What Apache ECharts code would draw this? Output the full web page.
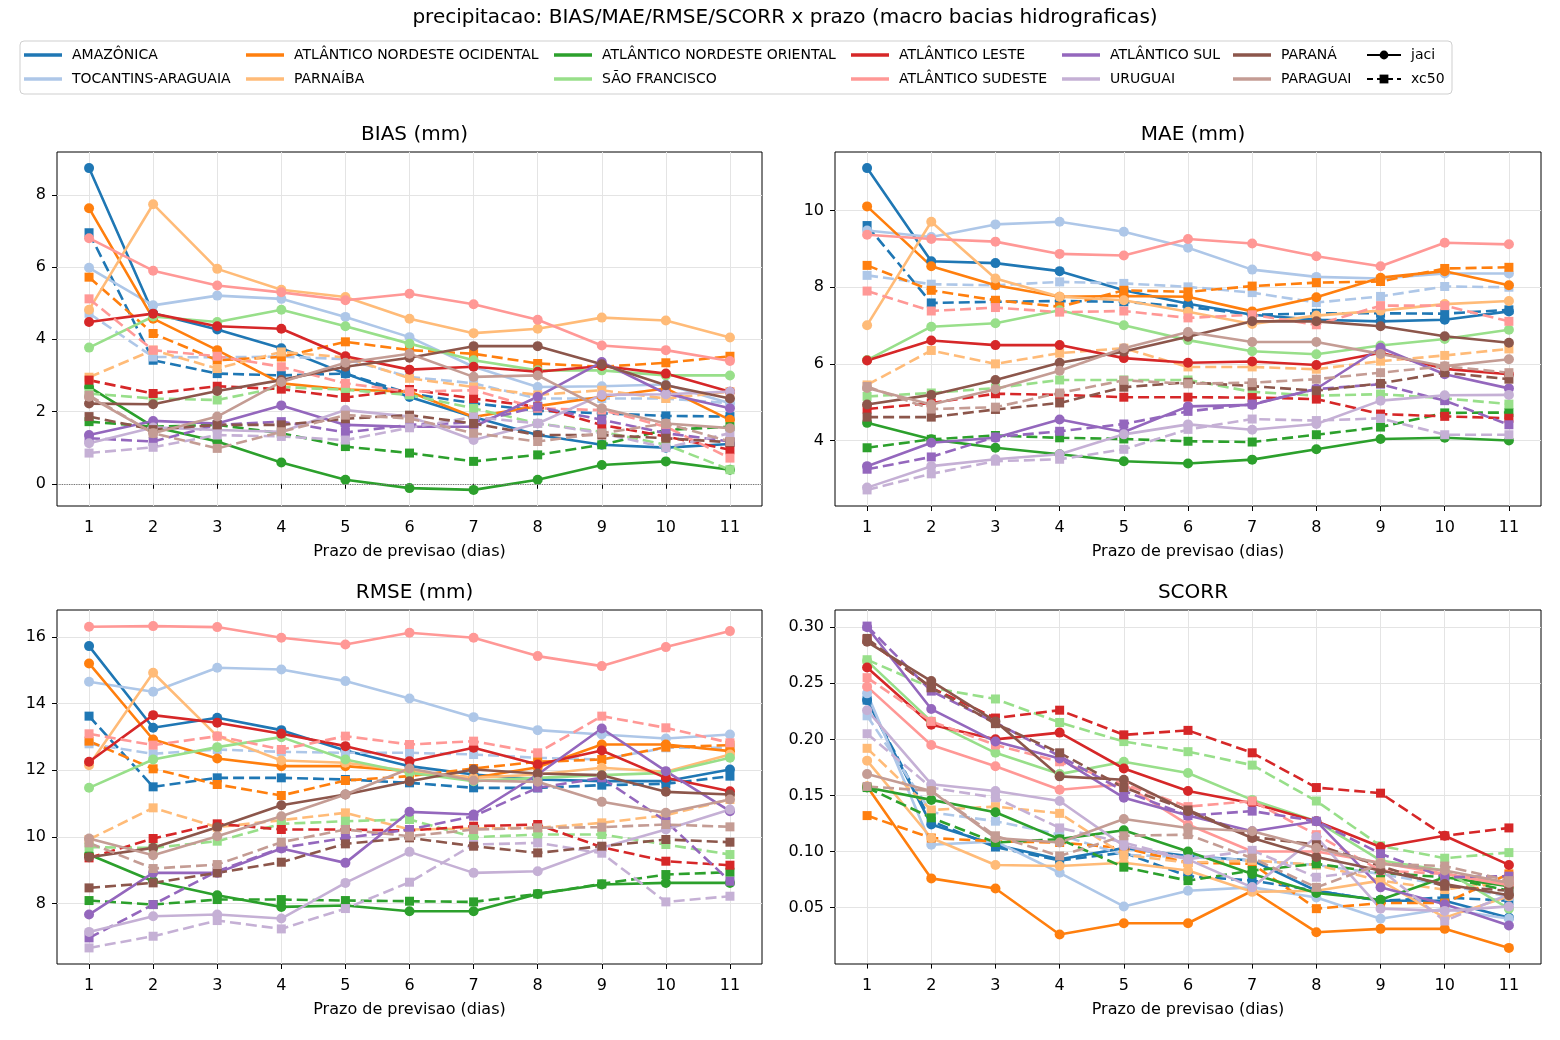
<!DOCTYPE html>
<html>
<head>
<meta charset="utf-8">
<script src="https://cdn.jsdelivr.net/npm/echarts@6.0.0/dist/echarts.min.js"></script>
<style>
  html, body { margin: 0; padding: 0; background: #fff; }
  #chart { width: 1560px; height: 1040px; }
</style>
</head>
<body>
<div id="chart"></div>
<script>
// lead times (dias)
var leads = [1, 2, 3, 4, 5, 6, 7, 8, 9, 10, 11];

var basins = ['AMAZÔNICA', 'TOCANTINS-ARAGUAIA', 'ATLÂNTICO NORDESTE OCIDENTAL', 'PARNAÍBA',
  'ATLÂNTICO NORDESTE ORIENTAL', 'SÃO FRANCISCO', 'ATLÂNTICO LESTE', 'ATLÂNTICO SUDESTE',
  'ATLÂNTICO SUL', 'URUGUAI', 'PARANÁ', 'PARAGUAI'];
var colors = ['#1f77b4', '#aec7e8', '#ff7f0e', '#ffbb78', '#2ca02c', '#98df8a',
  '#d62728', '#ff9896', '#9467bd', '#c5b0d5', '#8c564b', '#c49c94'];

// one row per basin, same order as basins
var biasJaci = [
  [8.74, 4.72, 4.27, 3.75, 3.05, 2.40, 1.85, 1.35, 1.08, 1.00, 1.10],
  [5.98, 4.94, 5.21, 5.12, 4.62, 4.06, 3.24, 2.68, 2.70, 2.75, 2.23],
  [7.63, 4.57, 3.70, 2.78, 2.61, 2.55, 1.85, 2.15, 2.41, 2.64, 1.77],
  [4.82, 7.74, 5.95, 5.37, 5.17, 4.57, 4.17, 4.29, 4.60, 4.52, 4.05],
  [2.68, 1.58, 1.17, 0.59, 0.11, -0.12, -0.17, 0.11, 0.52, 0.62, 0.39],
  [3.77, 4.63, 4.48, 4.82, 4.36, 3.88, 3.42, 3.14, 3.14, 3.00, 3.00],
  [4.48, 4.71, 4.36, 4.29, 3.53, 3.16, 3.24, 3.10, 3.26, 3.05, 2.55],
  [6.80, 5.90, 5.49, 5.30, 5.08, 5.26, 4.97, 4.54, 3.83, 3.70, 3.40],
  [1.35, 1.74, 1.67, 2.17, 1.63, 1.58, 1.58, 2.41, 3.37, 2.50, 2.09],
  [1.12, 1.56, 1.49, 1.44, 2.04, 1.86, 1.21, 1.67, 2.46, 2.48, 2.55],
  [2.22, 2.20, 2.57, 2.87, 3.24, 3.49, 3.81, 3.81, 3.31, 2.73, 2.36],
  [2.41, 1.40, 1.86, 2.82, 3.35, 3.60, 2.96, 3.00, 2.09, 1.67, 1.54]
];
var biasXc50 = [
  [6.95, 3.42, 3.05, 3.00, 3.05, 2.50, 2.23, 2.02, 1.95, 1.88, 1.86],
  [4.72, 3.51, 3.50, 3.52, 3.45, 2.96, 2.78, 2.36, 2.36, 2.36, 2.23],
  [5.72, 4.16, 3.42, 3.51, 3.93, 3.70, 3.60, 3.33, 3.24, 3.35, 3.53],
  [2.95, 3.70, 3.19, 3.65, 3.50, 2.92, 2.68, 2.46, 2.59, 2.36, 2.55],
  [1.72, 1.58, 1.63, 1.40, 1.03, 0.85, 0.62, 0.80, 1.08, 1.49, 1.58],
  [2.50, 2.36, 2.32, 2.68, 2.60, 2.46, 2.09, 1.67, 1.44, 1.08, 0.39],
  [2.87, 2.50, 2.70, 2.62, 2.39, 2.61, 2.36, 2.13, 1.63, 1.31, 0.94],
  [5.12, 3.70, 3.53, 3.24, 2.78, 2.55, 2.59, 2.09, 2.04, 1.58, 0.71],
  [1.26, 1.17, 1.63, 1.72, 1.42, 1.63, 1.70, 2.13, 1.77, 1.40, 1.17],
  [0.85, 1.01, 1.35, 1.31, 1.21, 1.55, 1.85, 1.67, 1.40, 1.00, 1.40],
  [1.86, 1.50, 1.63, 1.63, 1.80, 1.90, 1.67, 1.35, 1.35, 1.26, 1.15],
  [2.45, 1.40, 0.98, 1.44, 1.90, 1.81, 1.40, 1.17, 1.40, 1.67, 1.17]
];

var maeJaci = [
  [11.11, 8.68, 8.63, 8.42, 7.92, 7.57, 7.28, 7.15, 7.11, 7.15, 7.37],
  [9.48, 9.31, 9.64, 9.71, 9.45, 9.03, 8.46, 8.27, 8.23, 8.36, 8.36],
  [10.11, 8.55, 8.05, 7.75, 7.77, 7.75, 7.37, 7.74, 8.25, 8.42, 8.05],
  [7.01, 9.71, 8.23, 7.75, 7.66, 7.36, 7.04, 7.26, 7.39, 7.56, 7.64],
  [4.46, 4.03, 3.81, 3.64, 3.46, 3.40, 3.50, 3.77, 4.04, 4.07, 4.00],
  [6.10, 6.97, 7.06, 7.40, 7.01, 6.62, 6.33, 6.25, 6.48, 6.65, 6.89],
  [6.09, 6.61, 6.49, 6.49, 6.15, 6.03, 6.06, 5.97, 6.29, 5.87, 5.73],
  [9.37, 9.26, 9.19, 8.87, 8.83, 9.26, 9.14, 8.81, 8.55, 9.16, 9.12],
  [3.33, 3.94, 4.07, 4.55, 4.22, 4.89, 4.93, 5.35, 6.42, 5.73, 5.36],
  [2.77, 3.33, 3.51, 3.64, 4.16, 4.42, 4.28, 4.43, 5.04, 5.18, 5.19],
  [4.94, 5.19, 5.58, 6.03, 6.32, 6.71, 7.11, 7.11, 6.98, 6.72, 6.55],
  [5.37, 4.94, 5.34, 5.82, 6.41, 6.83, 6.57, 6.57, 6.26, 5.94, 6.12]
];
var maeXc50 = [
  [9.61, 7.59, 7.62, 7.64, 7.62, 7.49, 7.28, 7.32, 7.32, 7.31, 7.41],
  [8.31, 8.08, 8.05, 8.14, 8.10, 8.01, 7.86, 7.60, 7.76, 8.02, 8.00],
  [8.57, 7.92, 7.66, 7.49, 7.92, 7.88, 8.03, 8.12, 8.15, 8.49, 8.52],
  [5.45, 6.35, 6.00, 6.28, 6.41, 5.92, 5.92, 5.86, 6.07, 6.22, 6.39],
  [3.81, 4.03, 4.13, 4.07, 4.04, 3.98, 3.96, 4.15, 4.35, 4.72, 4.73],
  [5.15, 5.24, 5.37, 5.58, 5.58, 5.58, 5.27, 5.17, 5.21, 5.10, 4.95],
  [4.82, 4.98, 5.22, 5.19, 5.13, 5.13, 5.12, 5.08, 4.69, 4.63, 4.58],
  [7.90, 7.38, 7.47, 7.35, 7.38, 7.20, 7.28, 7.02, 7.52, 7.52, 7.11],
  [3.25, 3.57, 4.09, 4.24, 4.43, 4.76, 4.95, 5.34, 5.47, 5.04, 4.41],
  [2.71, 3.13, 3.46, 3.51, 3.77, 4.29, 4.56, 4.52, 4.58, 4.15, 4.15],
  [4.61, 4.61, 4.81, 4.98, 5.39, 5.52, 5.42, 5.30, 5.49, 5.77, 5.60],
  [5.41, 4.82, 4.87, 5.24, 5.57, 5.48, 5.51, 5.60, 5.77, 5.94, 5.77]
];

var rmseJaci = [
  [15.72, 13.27, 13.57, 13.20, 12.59, 12.12, 11.87, 11.72, 11.67, 11.67, 12.02],
  [14.65, 14.35, 15.07, 15.02, 14.67, 14.15, 13.59, 13.20, 13.07, 12.95, 13.07],
  [15.20, 12.92, 12.35, 12.12, 12.12, 11.97, 11.77, 12.09, 12.77, 12.77, 12.57],
  [12.15, 14.92, 13.02, 12.29, 12.22, 11.97, 11.77, 11.87, 12.07, 11.95, 12.47],
  [9.47, 8.67, 8.25, 7.90, 7.94, 7.77, 7.77, 8.29, 8.57, 8.62, 8.62],
  [11.47, 12.32, 12.69, 12.99, 12.32, 11.92, 11.67, 11.77, 11.85, 11.92, 12.37],
  [12.25, 13.65, 13.42, 13.09, 12.72, 12.27, 12.67, 12.17, 12.59, 11.77, 11.37],
  [16.30, 16.32, 16.29, 15.97, 15.77, 16.12, 15.97, 15.42, 15.12, 15.69, 16.17],
  [7.67, 8.92, 8.92, 9.65, 9.22, 10.75, 10.67, 11.87, 13.25, 11.97, 10.77],
  [7.15, 7.62, 7.67, 7.55, 8.62, 9.55, 8.92, 8.97, 9.67, 10.22, 10.82],
  [9.39, 9.67, 10.29, 10.95, 11.27, 11.67, 12.02, 11.90, 11.85, 11.35, 11.27],
  [9.95, 9.45, 10.02, 10.62, 11.27, 12.05, 11.69, 11.65, 11.05, 10.72, 11.12]
];
var rmseXc50 = [
  [13.62, 11.50, 11.77, 11.77, 11.72, 11.62, 11.47, 11.47, 11.55, 11.59, 11.82],
  [12.79, 12.49, 12.62, 12.55, 12.52, 12.52, 12.47, 12.37, 12.32, 12.67, 12.67],
  [12.87, 12.04, 11.57, 11.24, 11.69, 11.82, 12.05, 12.25, 12.32, 12.69, 12.75],
  [9.92, 10.87, 10.29, 10.50, 10.72, 10.22, 10.25, 10.27, 10.42, 10.65, 11.12],
  [8.09, 7.97, 8.12, 8.12, 8.09, 8.07, 8.05, 8.29, 8.59, 8.87, 8.94],
  [9.69, 9.67, 9.87, 10.39, 10.47, 10.52, 9.99, 10.07, 10.07, 9.77, 9.47],
  [9.37, 9.95, 10.39, 10.22, 10.22, 10.19, 10.32, 10.37, 9.69, 9.27, 9.15],
  [13.09, 12.75, 13.02, 12.62, 13.02, 12.77, 12.87, 12.52, 13.62, 13.27, 12.82],
  [6.97, 7.97, 8.97, 9.67, 9.97, 10.22, 10.62, 11.47, 11.77, 10.47, 8.67],
  [6.67, 7.02, 7.49, 7.24, 7.85, 8.64, 9.77, 9.82, 9.51, 8.05, 8.22],
  [8.47, 8.62, 8.92, 9.24, 9.79, 9.97, 9.72, 9.52, 9.72, 9.92, 9.84],
  [9.82, 9.05, 9.17, 9.84, 10.22, 10.02, 10.22, 10.27, 10.29, 10.37, 10.30]
];

var scorrJaci = [
  [0.235, 0.124, 0.106, 0.093, 0.103, 0.096, 0.092, 0.065, 0.056, 0.056, 0.041],
  [0.241, 0.106, 0.109, 0.081, 0.051, 0.065, 0.068, 0.059, 0.040, 0.049, 0.040],
  [0.158, 0.076, 0.067, 0.026, 0.036, 0.036, 0.065, 0.028, 0.031, 0.031, 0.014],
  [0.181, 0.112, 0.088, 0.087, 0.090, 0.083, 0.064, 0.065, 0.074, 0.041, 0.060],
  [0.157, 0.146, 0.135, 0.111, 0.119, 0.100, 0.080, 0.063, 0.057, 0.077, 0.069],
  [0.270, 0.216, 0.188, 0.169, 0.180, 0.170, 0.146, 0.127, 0.092, 0.083, 0.049],
  [0.264, 0.213, 0.200, 0.206, 0.174, 0.154, 0.143, 0.127, 0.104, 0.114, 0.088],
  [0.247, 0.195, 0.176, 0.155, 0.160, 0.124, 0.100, 0.100, 0.090, 0.080, 0.070],
  [0.300, 0.227, 0.198, 0.183, 0.148, 0.132, 0.118, 0.127, 0.068, 0.053, 0.034],
  [0.226, 0.160, 0.154, 0.145, 0.105, 0.093, 0.068, 0.113, 0.049, 0.047, 0.051],
  [0.287, 0.252, 0.216, 0.167, 0.164, 0.136, 0.112, 0.095, 0.083, 0.071, 0.061],
  [0.169, 0.154, 0.112, 0.108, 0.129, 0.121, 0.118, 0.103, 0.089, 0.083, 0.072]
];
var scorrXc50 = [
  [0.235, 0.127, 0.104, 0.092, 0.099, 0.078, 0.074, 0.065, 0.056, 0.059, 0.056],
  [0.221, 0.135, 0.127, 0.115, 0.097, 0.095, 0.092, 0.088, 0.080, 0.070, 0.060],
  [0.132, 0.112, 0.109, 0.108, 0.103, 0.090, 0.089, 0.049, 0.054, 0.054, 0.080],
  [0.192, 0.137, 0.140, 0.134, 0.097, 0.090, 0.092, 0.088, 0.074, 0.066, 0.074],
  [0.157, 0.130, 0.108, 0.111, 0.086, 0.074, 0.083, 0.089, 0.081, 0.077, 0.065],
  [0.271, 0.246, 0.236, 0.215, 0.198, 0.189, 0.177, 0.145, 0.105, 0.094, 0.099],
  [0.289, 0.246, 0.219, 0.226, 0.204, 0.208, 0.188, 0.157, 0.152, 0.114, 0.121],
  [0.255, 0.216, 0.195, 0.180, 0.160, 0.140, 0.145, 0.115, 0.083, 0.080, 0.072],
  [0.301, 0.243, 0.215, 0.185, 0.154, 0.132, 0.136, 0.127, 0.098, 0.077, 0.078],
  [0.205, 0.157, 0.148, 0.121, 0.108, 0.093, 0.101, 0.077, 0.084, 0.038, 0.062],
  [0.290, 0.246, 0.214, 0.188, 0.157, 0.137, 0.113, 0.106, 0.087, 0.069, 0.065],
  [0.158, 0.154, 0.114, 0.096, 0.114, 0.115, 0.094, 0.068, 0.089, 0.087, 0.074]
];

// tick labels
var biasTicks = [0, 2, 4, 6, 8];
var maeTicks = [4, 6, 8, 10];
var rmseTicks = [8, 10, 12, 14, 16];
var scorrTicks = [0.05, 0.10, 0.15, 0.20, 0.25, 0.30];

var FONT = 'DejaVu Sans';
var chart = echarts.init(document.getElementById('chart'), null, { renderer: 'canvas' });

var panels = [
  { title: 'BIAS (mm)', jaci: biasJaci, xc50: biasXc50, ticks: biasTicks, digits: 0, box: { left: 57, top: 152, width: 705, height: 354 } },
  { title: 'MAE (mm)', jaci: maeJaci, xc50: maeXc50, ticks: maeTicks, digits: 0, box: { left: 835, top: 152, width: 706, height: 354 } },
  { title: 'RMSE (mm)', jaci: rmseJaci, xc50: rmseXc50, ticks: rmseTicks, digits: 0, box: { left: 57, top: 610, width: 705, height: 354 } },
  { title: 'SCORR', jaci: scorrJaci, xc50: scorrXc50, ticks: scorrTicks, digits: 2, box: { left: 835, top: 610, width: 706, height: 354 } }
];

var grids = [], xAxes = [], yAxes = [], series = [];
var titles = [{
  text: 'precipitacao: BIAS/MAE/RMSE/SCORR x prazo (macro bacias hidrograficas)',
  left: 780, top: 3, textAlign: 'center',
  textStyle: { fontFamily: FONT, fontSize: 20, fontWeight: 'normal', color: '#000' }
}];

panels.forEach(function (p, i) {
  // matplotlib-like 5% margins
  var all = [].concat.apply([], p.jaci.concat(p.xc50));
  var lo = Math.min.apply(null, all), hi = Math.max.apply(null, all);
  var pad = (hi - lo) * 0.05;

  grids.push({
    left: p.box.left, top: p.box.top, width: p.box.width, height: p.box.height,
    show: true, borderColor: '#000', borderWidth: 1, containLabel: false
  });
  titles.push({
    text: p.title, left: p.box.left + p.box.width / 2, top: p.box.top - 32, textAlign: 'center',
    textStyle: { fontFamily: FONT, fontSize: 20, fontWeight: 'normal', color: '#000' }
  });
  xAxes.push({
    type: 'value', gridIndex: i, min: 0.5, max: 11.5,
    name: 'Prazo de previsao (dias)', nameLocation: 'middle', nameGap: 38,
    nameTextStyle: { fontFamily: FONT, fontSize: 16, color: '#000' },
    axisLine: { show: false },
    axisTick: { show: true, length: 5, customValues: leads, lineStyle: { color: '#000' } },
    axisLabel: { customValues: leads, margin: 14, fontFamily: FONT, fontSize: 16, color: '#000' },
    splitLine: { show: true, lineStyle: { color: '#e4e4e4', width: 1 } }
  });
  yAxes.push({
    type: 'value', gridIndex: i, min: lo - pad, max: hi + pad,
    axisLine: { show: false },
    axisTick: { show: true, length: 5, customValues: p.ticks, lineStyle: { color: '#000' } },
    axisLabel: {
      customValues: p.ticks, margin: 11, fontFamily: FONT, fontSize: 16, color: '#000',
      formatter: (function (d) { return function (v) { return v.toFixed(d); }; })(p.digits)
    },
    splitLine: { show: true, lineStyle: { color: '#e4e4e4', width: 1 } }
  });

  basins.forEach(function (b, j) {
    [['jaci', p.jaci[j], 'circle', 'solid', 10], ['xc50', p.xc50[j], 'rect', [11, 5], 9]].forEach(function (m) {
      var s = {
        name: b, type: 'line', xAxisIndex: i, yAxisIndex: i,
        data: leads.map(function (x, k) { return [x, m[1][k]]; }),
        symbol: m[2], symbolSize: m[4], showSymbol: true,
        color: colors[j],
        itemStyle: { color: colors[j], borderWidth: 0 },
        lineStyle: { color: colors[j], width: 2.6, type: m[3] },
        emphasis: { disabled: true },
        animation: false
      };
      if (i === 0 && j === 0 && m[0] === 'jaci') {
        s.markLine = {
          silent: true, symbol: ['none', 'none'], label: { show: false },
          lineStyle: { color: '#777', type: 'dotted', width: 1.2 },
          data: [{ yAxis: 0 }]
        };
      }
      series.push(s);
    });
  });
});

// style-only entries for the legend
series.push({ name: 'jaci', type: 'line', xAxisIndex: 0, yAxisIndex: 0, data: [], symbol: 'circle',
  color: '#000', itemStyle: { color: '#000' }, lineStyle: { color: '#000', width: 2.6, type: 'solid' } });
series.push({ name: 'xc50', type: 'line', xAxisIndex: 0, yAxisIndex: 0, data: [], symbol: 'rect',
  color: '#000', itemStyle: { color: '#000' }, lineStyle: { color: '#000', width: 2.6, type: [6, 4] } });

// legend: 7 columns of 2 rows
var legendCols = [24, 246, 554, 851, 1062, 1233, 1366];
var legends = [];
for (var c = 0; c < 7; c++) {
  var names = [], isModel = c === 6;
  if (isModel) {
    names = [{ name: 'jaci' }, { name: 'xc50' }];
  } else {
    names = [{ name: basins[c * 2], icon: 'rect' }, { name: basins[c * 2 + 1], icon: 'rect' }];
  }
  legends.push({
    orient: 'vertical', left: legendCols[c], top: 48, padding: 0,
    itemWidth: isModel ? 34 : 38, itemHeight: isModel ? 11 : 3.5, itemGap: 10,
    selectedMode: false,
    textStyle: { fontFamily: FONT, fontSize: 14, color: '#000', padding: [0, 0, 0, 5] },
    data: names
  });
}

chart.setOption({
  animation: false,
  backgroundColor: '#fff',
  textStyle: { fontFamily: FONT },
  title: titles,
  graphic: [{
    type: 'rect', z: -1, silent: true,
    shape: { x: 20, y: 41, width: 1432, height: 53, r: 4 },
    style: { fill: '#fff', stroke: '#cfcfcf', lineWidth: 1 }
  }],
  legend: legends,
  grid: grids,
  xAxis: xAxes,
  yAxis: yAxes,
  series: series
});
</script>
</body>
</html>
